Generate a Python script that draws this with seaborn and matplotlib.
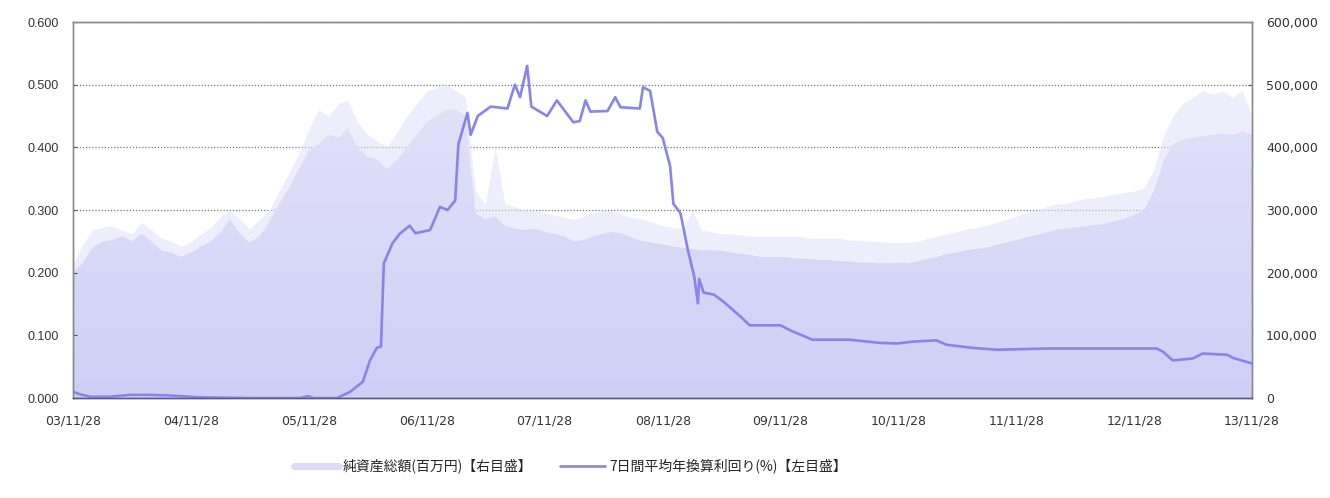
import numpy as np
import pandas as pd
import matplotlib
matplotlib.use('Agg')
import matplotlib.pyplot as plt
import matplotlib.dates as mdates
import matplotlib.ticker as mticker
from matplotlib.colors import LinearSegmentedColormap
from matplotlib.lines import Line2D
import seaborn as sns

# monthly net assets (million yen), lower envelope and daily peaks
asset_low = [200, 215, 240, 250, 252, 258, 250, 262, 250, 235, 232, 225, 232,
             242, 250, 265, 285, 262, 248, 258, 280, 310, 335, 365, 395,
             405, 420, 415, 430, 400, 385, 380, 365, 380, 400, 420, 440,
             450, 460, 460, 450, 295, 285, 290, 275, 270, 268, 270, 265,
             262, 258, 250, 252, 258, 262, 265, 262, 255, 250, 248, 245,
             242, 240, 238, 236, 236, 235, 232, 230, 228, 225, 225, 225,
             224, 222, 222, 220, 220, 218, 218, 216, 216, 215, 215, 216,
             215, 218, 222, 225, 230, 232, 236, 238, 240, 244, 248, 252,
             256, 260, 264, 268, 270, 272, 274, 276, 278, 282, 286, 292,
             300, 330, 380, 405, 412, 415, 418, 420, 422, 420, 425, 420]
asset_high = [215, 245, 268, 272, 275, 268, 262, 280, 268, 255, 250, 242, 250,
              262, 272, 290, 300, 285, 270, 285, 300, 330, 360, 390, 430,
              460, 450, 470, 475, 440, 420, 410, 400, 425, 450, 470, 490,
              495, 500, 490, 480, 330, 310, 400, 310, 305, 300, 300, 295,
              292, 288, 285, 290, 295, 300, 298, 292, 288, 285, 280, 275,
              272, 270, 300, 268, 265, 262, 262, 260, 258, 258, 258, 258,
              258, 258, 255, 255, 255, 255, 252, 252, 250, 250, 248, 248,
              248, 250, 255, 258, 262, 265, 270, 272, 275, 280, 285, 290,
              295, 300, 305, 310, 310, 315, 318, 320, 322, 325, 328, 330,
              335, 365, 420, 450, 470, 480, 490, 485, 490, 480, 490, 450]
asset_dates = pd.date_range('2003-11-28', periods=len(asset_low), freq=pd.DateOffset(months=1))

# 7-day average annualised yield (%)
yield_dates = ['2003-11-28', '2003-12-19', '2004-01-20', '2004-03-21', '2004-05-22', '2004-07-23',
               '2004-09-23', '2004-11-25', '2004-12-26', '2005-05-28', '2005-10-30', '2005-11-25',
               '2005-12-10', '2006-02-23', '2006-04-05', '2006-05-14', '2006-06-05', '2006-06-26',
               '2006-07-09', '2006-07-18', '2006-08-14', '2006-09-05', '2006-10-06', '2006-10-24',
               '2006-12-08', '2007-01-08', '2007-01-31', '2007-02-24', '2007-03-06', '2007-04-03',
               '2007-04-13', '2007-05-05', '2007-06-14', '2007-08-05', '2007-08-28', '2007-09-13',
               '2007-10-05', '2007-10-18', '2007-12-06', '2008-01-05', '2008-02-25', '2008-03-16',
               '2008-04-03', '2008-04-18', '2008-06-10', '2008-07-04', '2008-07-20', '2008-09-18',
               '2008-09-28', '2008-10-20', '2008-11-11', '2008-11-28', '2008-12-21', '2008-12-31',
               '2009-01-22', '2009-02-14', '2009-03-06', '2009-03-17', '2009-03-21', '2009-04-04',
               '2009-05-06', '2009-06-06', '2009-07-27', '2009-08-24', '2009-11-28', '2009-12-28',
               '2010-03-07', '2010-06-30', '2010-10-01', '2010-11-24', '2011-01-13', '2011-03-26',
               '2011-04-26', '2011-07-16', '2011-09-30', '2012-03-03', '2013-02-05', '2013-02-25',
               '2013-03-27', '2013-05-28', '2013-06-28', '2013-09-12', '2013-09-30', '2013-11-28']
yield_vals = [0.010, 0.006, 0.002, 0.002, 0.005, 0.005,
              0.004, 0.002, 0.001, 0.000, 0.000, 0.003,
              0.000, 0.000, 0.010, 0.026, 0.060, 0.080,
              0.082, 0.215, 0.247, 0.262, 0.275, 0.263,
              0.268, 0.305, 0.300, 0.315, 0.405, 0.455,
              0.420, 0.450, 0.465, 0.462, 0.500, 0.480,
              0.530, 0.465, 0.450, 0.475, 0.440, 0.442,
              0.475, 0.457, 0.458, 0.480, 0.464, 0.462,
              0.496, 0.490, 0.425, 0.415, 0.370, 0.310,
              0.295, 0.236, 0.193, 0.151, 0.190, 0.168,
              0.165, 0.153, 0.130, 0.116, 0.116, 0.108,
              0.093, 0.093, 0.088, 0.087, 0.090, 0.092,
              0.085, 0.080, 0.077, 0.079, 0.079, 0.074,
              0.060, 0.063, 0.071, 0.069, 0.064, 0.055]
yield_dates = pd.to_datetime(yield_dates)

label_assets = '純資産総額(百万円)【右目盛】'
label_yield = '7日間平均年換算利回り(%)【左目盛】'

line_color = '#8585ec'

sns.set_theme(style='white')
plt.rcParams['font.family'] = ['Liberation Sans', 'Noto Sans CJK JP', 'DejaVu Sans']

fig = plt.figure(figsize=(13.3, 4.98), dpi=100)
ax = fig.add_axes([0.0549, 0.2008, 0.8865, 0.755])
ax2 = ax.twinx()

low = np.array(asset_low) * 1000
high = np.array(asset_high) * 1000

# faint daily peaks, then gradient-filled main area
ax2.fill_between(asset_dates, high, color='#e2e2fa', alpha=0.6, lw=0, zorder=1)
poly = ax2.fill_between(asset_dates, low, color='none', lw=0, zorder=1)
cmap = LinearSegmentedColormap.from_list('g', ['#cfcff6', '#e6e6fb'])
x0 = mdates.date2num(pd.Timestamp('2003-11-28'))
x1 = mdates.date2num(pd.Timestamp('2013-11-28'))
im = ax2.imshow(np.linspace(0, 1, 256).reshape(-1, 1), cmap=cmap, origin='lower',
                aspect='auto', extent=[x0, x1, 0, 600000], zorder=1.5)
im.set_clip_path(poly.get_paths()[0], ax2.transData)

ax2.set_ylim(0, 600000)
ax2.set_yticks(np.arange(0, 600001, 100000))
ax2.yaxis.set_major_formatter(mticker.FuncFormatter(lambda v, p: f'{int(v):,}'))
ax2.yaxis.grid(True, ls=(0, (1, 1.5)), color='#777777', lw=0.9)
ax2.set_axisbelow(True)

sns.lineplot(x=yield_dates, y=yield_vals, ax=ax, color=line_color, lw=1.9)
ax.set_zorder(ax2.get_zorder() + 1)
ax.patch.set_visible(False)
ax.set_ylim(0, 0.6)
ax.set_yticks(np.arange(0, 0.61, 0.1))
ax.yaxis.set_major_formatter(mticker.FormatStrFormatter('%.3f'))
ax.set_xlim(x0, x1)
ax.set_xticks(pd.date_range('2003-11-28', periods=11, freq=pd.DateOffset(years=1)))
ax.xaxis.set_major_formatter(mdates.DateFormatter('%y/%m/%d'))
ax.set_xlabel('')
ax.set_ylabel('')

for a in (ax, ax2):
    a.tick_params(direction='in', length=3, width=0.8, colors='#555555',
                  labelcolor='#333333', labelsize=9, pad=10)
    for s in a.spines.values():
        s.set_color('#8a8a8a')
        s.set_linewidth(1.0)
    a.spines['bottom'].set_color('#5a5a7a')
ax.tick_params(axis='x', pad=12)
for t in ax.get_xticklabels() + ax2.get_yticklabels():
    t.set_family('DejaVu Sans')

handles = [Line2D([], [], color='#dcdcf8', lw=5),
           Line2D([], [], color=line_color, lw=1.9)]
fig.legend(handles, [label_assets, label_yield], loc='center', bbox_to_anchor=(0.429, 0.064),
           ncol=2, frameon=False, handlelength=3.2, handletextpad=0.3, columnspacing=2.0,
           prop={'family': ['Noto Sans CJK JP', 'DejaVu Sans'], 'size': 10})

fig.savefig('out.png', dpi=100)
